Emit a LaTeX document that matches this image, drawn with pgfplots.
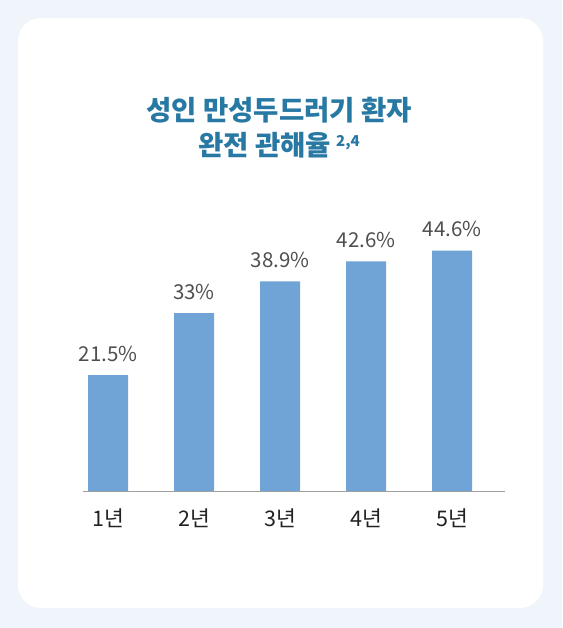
\documentclass[border=0pt]{standalone}
\usepackage{pgfplots}
\pgfplotsset{compat=1.18}
\usepackage{fontspec}
\newfontfamily\kr{Noto Sans CJK KR}
\definecolor{bgc}{HTML}{EFF5FA}
\definecolor{barc}{HTML}{70A4D7}
\definecolor{titc}{HTML}{2878A4}
\definecolor{labc}{HTML}{4F4F4F}
\definecolor{tickc}{HTML}{222222}
\definecolor{axc}{HTML}{A0A0A0}
\begin{document}
\begin{tikzpicture}[x=1pt,y=1pt]
\useasboundingbox (0,0) rectangle (562,628);
\fill[bgc] (0,0) rectangle (562,628);
\fill[white, rounded corners=23pt] (18,20) rectangle (543,610);
\node[font=\kr\bfseries\fontsize{27.5}{30}\selectfont, text=titc, anchor=center] at (279,628-110) {성인 만성두드러기 환자};
\node[font=\kr\bfseries\fontsize{27.5}{30}\selectfont, text=titc, anchor=center] at (279,628-145) {완전 관해율\hspace{5pt}\raisebox{9pt}{\fontsize{15}{17}\selectfont 2,4}};
\begin{axis}[
  at={(83pt,137pt)}, anchor=south west,
  scale only axis, width=422pt, height=269.5pt,
  xmin=-0.2907, xmax=4.616, ymin=0, ymax=50,
  axis x line*=bottom, axis y line=none,
  axis line style={axc, line width=0.8pt, -},
  ybar, bar width=40pt,
  xtick={0,1,2,3,4}, xticklabels={1년,2년,3년,4년,5년},
  major tick length=0pt,
  xticklabel style={font=\kr\fontsize{21.5}{23}\selectfont, text=tickc, anchor=center, yshift=-27.5pt},
  point meta=explicit symbolic,
  nodes near coords,
  every node near coord/.append style={font=\kr\fontsize{20.5}{22}\selectfont, text=labc, anchor=center, yshift=21.5pt},
  clip=false,
]
\addplot[fill=barc, draw=none] coordinates {
 (0,21.5) [21.5\%]
 (1,33) [33\%]
 (2,38.9) [38.9\%]
 (3,42.6) [42.6\%]
 (4,44.6) [44.6\%]
};
\end{axis}
\end{tikzpicture}
\end{document}
